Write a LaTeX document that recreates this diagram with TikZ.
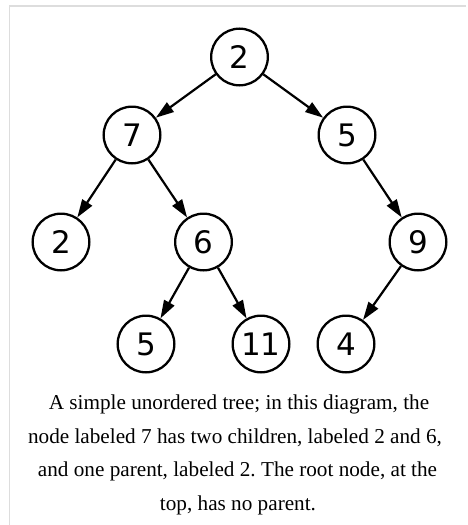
\documentclass[tikz,border=0pt]{standalone}
\usepackage{fontspec}
\setmainfont{Liberation Serif}
\newfontfamily\dejavu{DejaVu Sans}
\usetikzlibrary{arrows.meta}
\definecolor{framegray}{HTML}{DDDDDD}
\frenchspacing
\tikzset{
  treenode/.style={circle, draw=black, line width=2.3pt, minimum size=56.7pt, inner sep=0pt,
    font=\dejavu\fontsize{31}{31}\selectfont},
  treeedge/.style={line width=2.2pt, -{Triangle[length=18pt,width=11.5pt]}},
  captext/.style={anchor=base, inner sep=0pt, font=\fontsize{21.2}{26}\selectfont},
  frameline/.style={draw=framegray, line width=1.8pt}
}
\begin{document}
\begin{tikzpicture}[x=1pt,y=-1pt]
\useasboundingbox (0,0) rectangle (467,525);
\fill[white] (0,0) rectangle (467,525);
% frame
\coordinate (fa) at (9.5,525);
\coordinate (fb) at (9.5,6);
\coordinate (fc) at (466,6);
\draw[frameline] (fa) -- (fb) -- (fc);
% nodes
\node[treenode] (r2) at (239.5,57) {2};
\node[treenode] (n7) at (132,135) {7};
\node[treenode] (n5) at (347,135) {5};
\node[treenode] (n2) at (61,242) {2};
\node[treenode] (n6) at (203.5,242) {6};
\node[treenode] (n9) at (418,242) {9};
\node[treenode] (n5b) at (146,344) {5};
\node[treenode] (n11) at (261,344) {11};
\node[treenode] (n4) at (346,344) {4};
% edges
\draw[treeedge] (r2) -- (n7);
\draw[treeedge] (r2) -- (n5);
\draw[treeedge] (n7) -- (n2);
\draw[treeedge] (n7) -- (n6);
\draw[treeedge] (n5) -- (n9);
\draw[treeedge] (n6) -- (n5b);
\draw[treeedge] (n6) -- (n11);
\draw[treeedge] (n9) -- (n4);
% caption
\node[captext] (cap1) at (239,409.3) {A simple unordered tree; in this diagram, the};
\node[captext] (cap2) at (235,443) {node labeled 7 has two children, labeled 2 and 6,};
\node[captext] (cap3) at (237.5,476.7) {and one parent, labeled 2. The root node, at the};
\node[captext] (cap4) at (238,510.4) {top, has no parent.};
\end{tikzpicture}
\end{document}
